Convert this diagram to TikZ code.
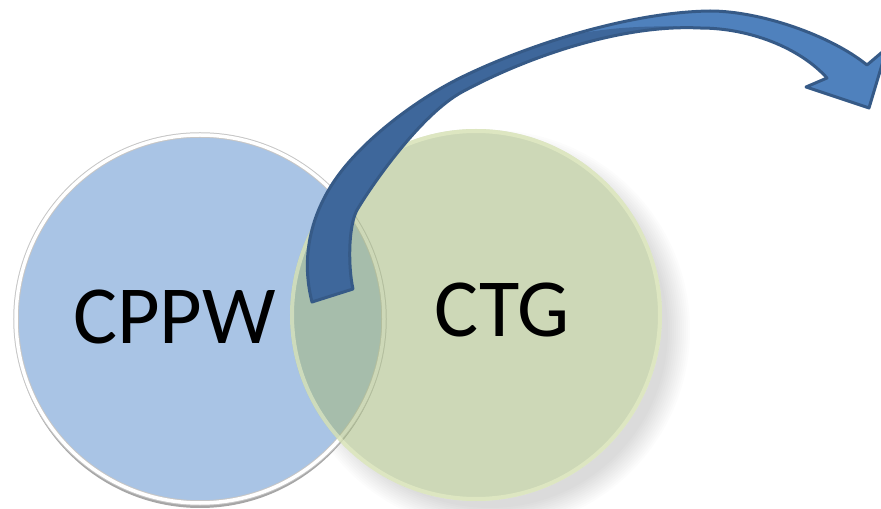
\documentclass[tikz,border=0pt]{standalone}
\usepackage{fontspec}
\setmainfont{Carlito}
\usetikzlibrary{positioning}
\definecolor{cppwblue}{RGB}{169,196,229}
\definecolor{ctggreen}{RGB}{164,184,125}
\definecolor{ctgrim}{RGB}{232,240,200}
\definecolor{arrowlight}{RGB}{79,129,189}
\definecolor{arrowdark}{RGB}{62,103,155}
\definecolor{arrowline}{RGB}{54,90,135}
\newcommand{\bendarrow}{(tail) .. controls (300,255) and (312,210) .. (340,173)
  .. controls (365,140) and (412,102) .. (460,78)
  .. controls (527,45) and (630,12) .. (710,11)
  .. controls (760,11) and (830,35) .. (867,65) -- (887,48) -- (tip) -- (806,87) -- (827,78)
  .. controls (800,48) and (750,28) .. (700,28)
  .. controls (620,24) and (525,58) .. (462,92)
  .. controls (422,114) and (375,180) .. (357,210)
  .. controls (349,225) and (348,260) .. (352,284) -- (353,289) -- cycle}

\begin{document}
\begin{tikzpicture}[x=0.2mm, y=-0.2mm,
    disc/.style={circle, inner sep=0pt, outer sep=0pt},
    cppwdisc/.style={disc, minimum size=73.6mm, fill=cppwblue, draw=gray!45,
                     double=white, double distance=0.7mm, line width=0.2mm},
    ctgdisc/.style={disc, minimum size=74.4mm, fill=ctggreen, fill opacity=0.55},
    lbl/.style={font=\fontsize{47}{50}\selectfont, inner sep=0pt}
  ]
  \useasboundingbox (0,0) rectangle (881,509);
  \foreach \r in {178,180,...,200}
    \fill[black, opacity=0.012] (490,330) circle (\r);
  \fill[white] (476,315) circle (186);
  \fill[gray!70] (200,323) circle (185);

  \node[cppwdisc] (cppw) at (200,319) {};
  \node[ctgdisc] (ctg) at (476,315) {};
  \draw[ctgrim, line width=0.8mm, opacity=0.6] (ctg.center) circle (184);

  \node[lbl] (cppwlabel) at (174.5,317) {CPPW};
  \node[lbl] (ctglabel) at (502,310) {CTG};

  \coordinate (tail) at (312,302);
  \coordinate (tip) at (869,108);
  \begin{scope}
    \clip \bendarrow;
    \fill[arrowlight] (250,0) rectangle (900,320);
    \fill[arrowdark] (540,43) .. controls (600,25) and (660,24) .. (730,29)
      -- (740,80) -- (300,420) -- (240,300) -- (280,150) -- (420,70) -- cycle;
  \end{scope}
  \draw[arrowline, line width=0.6mm, line join=round] \bendarrow;
\end{tikzpicture}
\end{document}
